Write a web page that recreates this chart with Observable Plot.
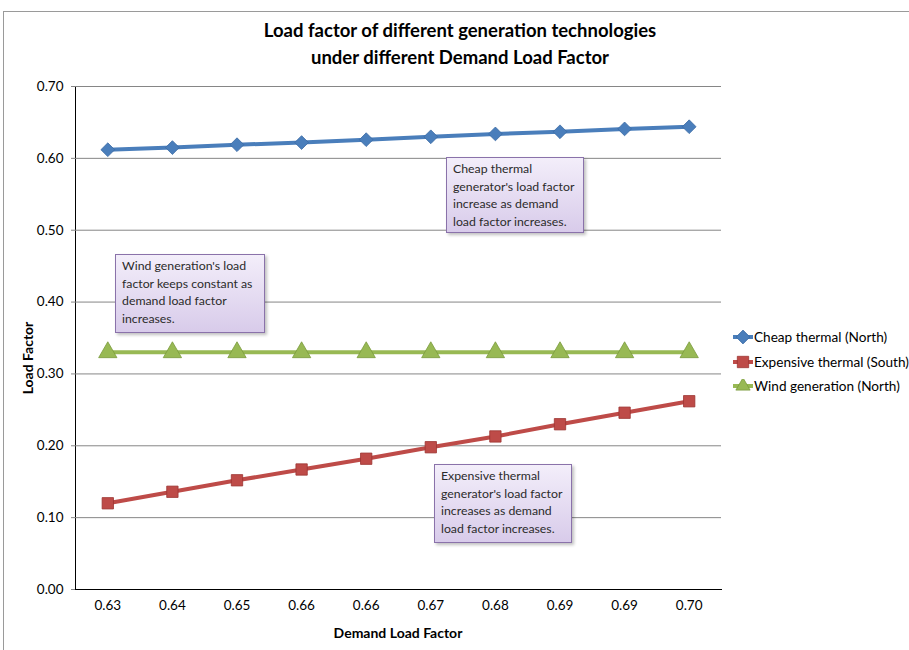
<!DOCTYPE html>
<html>
<head>
<meta charset="utf-8">
<script src="https://cdn.jsdelivr.net/npm/d3@7"></script>
<script src="https://cdn.jsdelivr.net/npm/@observablehq/plot@0.6"></script>
<style>
  html, body { margin: 0; padding: 0; background: #fff; }
  #wrap { position: relative; width: 909px; height: 650px; overflow: hidden; font-family: Lato, "Open Sans", sans-serif; }
  #chart { position: absolute; left: 0; top: 0; }
  .border { position: absolute; left: 3px; top: 11px; width: 920px; height: 660px; border: 1.5px solid #9a9a9a; box-sizing: border-box; }
  .title { position: absolute; left: 110px; width: 700px; text-align: center; font-weight: bold; font-size: 18.5px; color: #000; line-height: 27px; top: 17px; }
  .axlabel { position: absolute; font-weight: bold; font-size: 14px; color: #000; white-space: nowrap; }
  .note { position: absolute; box-sizing: border-box; border: 1px solid #8a72aa; background: linear-gradient(#f3eefa, #d8cbea); box-shadow: 2px 2px 3px rgba(0,0,0,0.25); font-size: 12.3px; line-height: 17.5px; color: #2b2b2b; padding: 2px 4px 0 6px; white-space: nowrap; }
  .legend { position: absolute; left: 733px; top: 325px; font-size: 13.6px; color: #000; }
  .legend div { height: 24.5px; display: flex; align-items: center; white-space: nowrap; }
  .legend svg { margin-right: 1px; }
</style>
</head>
<body>
<div id="wrap">
  <div class="border"></div>
  <div id="chart"></div>
  <div class="title">Load factor of different generation technologies<br>under different Demand Load Factor</div>
  <div class="axlabel" style="left:27px; top:358px; transform: translate(-50%,-50%) rotate(-90deg);">Load Factor</div>
  <div class="axlabel" style="left:398px; top:632px; transform: translate(-50%,-50%);">Demand Load Factor</div>
  <div class="note" style="left:446px; top:157px; width:138px; height:76px;">Cheap thermal<br>generator's load factor<br>increase as demand<br>load factor increases.</div>
  <div class="note" style="left:115px; top:254px; width:150px; height:79px;">Wind generation's load<br>factor keeps constant as<br>demand load factor<br>increases.</div>
  <div class="note" style="left:434px; top:464px; width:138px; height:79px;">Expensive thermal<br>generator's load factor<br>increases as demand<br>load factor increases.</div>
  <div class="legend" id="legend"></div>
</div>
<script>
// Category labels on the x axis (as printed, including repeated labels)
const demandLabels = ["0.63", "0.64", "0.65", "0.66", "0.66", "0.67", "0.68", "0.69", "0.69", "0.70"];
// Series values
const cheapThermal = [0.612, 0.615, 0.619, 0.622, 0.626, 0.630, 0.634, 0.637, 0.641, 0.644];
const expensiveThermal = [0.120, 0.136, 0.152, 0.167, 0.182, 0.198, 0.213, 0.230, 0.246, 0.262];
const windGeneration = [0.330, 0.330, 0.330, 0.330, 0.330, 0.330, 0.330, 0.330, 0.330, 0.330];
const yTicks = [0, 0.1, 0.2, 0.3, 0.4, 0.5, 0.6, 0.7];
const seriesNames = ["Cheap thermal (North)", "Expensive thermal (South)", "Wind generation (North)"];

const series = [
  {name: seriesNames[0], values: cheapThermal, color: "#4a7ebb", stroke: "#3a6aa3", symbol: "diamond2", r: 6.2},
  {name: seriesNames[1], values: expensiveThermal, color: "#be4b48", stroke: "#9c3431", symbol: "square", r: 6.4},
  {name: seriesNames[2], values: windGeneration, color: "#98b954", stroke: "#7a9a3c", symbol: "triangle", r: 6.8}
];

const rows = series.flatMap(s => s.values.map((v, i) => ({series: s.name, i, v})));

const marks = [
  Plot.ruleY(yTicks.slice(1), {stroke: "#868686", strokeWidth: 1})
];
for (const s of series) {
  const data = rows.filter(d => d.series === s.name);
  marks.push(Plot.line(data, {x: "i", y: "v", stroke: s.color, strokeWidth: 4, strokeLinejoin: "round", strokeLinecap: "round"}));
  marks.push(Plot.dot(data, {x: "i", y: "v", symbol: () => s.symbol, r: s.r, fill: s.color, stroke: s.stroke, strokeWidth: 0.8}));
}

const chart = Plot.plot({
  width: 909,
  height: 650,
  marginLeft: 75,
  marginRight: 188,
  marginTop: 86,
  marginBottom: 61,
  style: {fontFamily: "Lato, 'Open Sans', sans-serif", fontSize: "13.5px", color: "#000", background: "transparent", overflow: "visible"},
  x: {type: "point", domain: d3.range(demandLabels.length), padding: 0.5, round: false, tickFormat: i => demandLabels[i], tickSize: 0, tickPadding: 11, label: null, line: true},
  y: {domain: [0, 0.7], ticks: yTicks, tickFormat: d3.format(".2f"), tickSize: 4, tickPadding: 8, label: null, line: true},
  symbol: {type: "identity"},
  marks
});
chart.querySelectorAll("[aria-label='x-axis'] path, [aria-label='y-axis'] path, [aria-label='x-axis tick'] path, [aria-label='y-axis tick'] path").forEach(p => p.setAttribute("stroke", "#868686"));
document.getElementById("chart").appendChild(chart);

// Legend
const legend = document.getElementById("legend");
for (const s of series) {
  const row = document.createElement("div");
  const sw = d3.create("svg").attr("width", 20).attr("height", 14);
  sw.append("line").attr("x1", 0).attr("x2", 20).attr("y1", 7).attr("y2", 7).attr("stroke", s.color).attr("stroke-width", 4);
  const sym = {diamond2: d3.symbolDiamond2, square: d3.symbolSquare, triangle: d3.symbolTriangle2}[s.symbol];
  sw.append("path").attr("transform", "translate(10,7)").attr("d", d3.symbol(sym, Math.PI * s.r * s.r)()).attr("fill", s.color).attr("stroke", s.stroke).attr("stroke-width", 0.8);
  row.appendChild(sw.node());
  const t = document.createElement("span");
  t.textContent = s.name;
  row.appendChild(t);
  legend.appendChild(row);
}
</script>
</body>
</html>
